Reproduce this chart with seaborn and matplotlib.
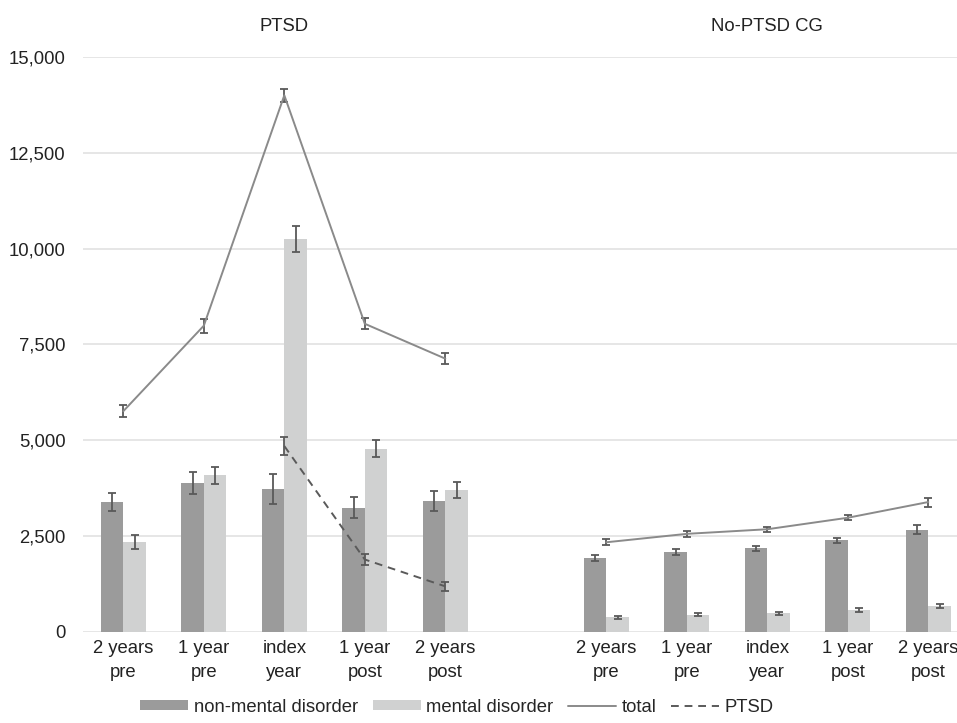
import pandas as pd
import seaborn as sns
import matplotlib.pyplot as plt
import matplotlib.transforms as mtransforms
from matplotlib.patches import Patch
from matplotlib.lines import Line2D

# values
periods = ["2 years\npre", "1 year\npre", "index\nyear", "1 year\npost", "2 years\npost"]
groups = ["PTSD", "No-PTSD CG"]

ptsd_nonmental = [3390, 3880, 3720, 3240, 3410]
ptsd_nonmental_err = [235, 283, 392, 270, 261]
ptsd_mental = [2350, 4090, 10250, 4780, 3700]
ptsd_mental_err = [175, 218, 348, 218, 205]
ptsd_total = [5760, 7990, 14000, 8040, 7130]
ptsd_total_err = [165, 183, 165, 140, 152]
ptsd_ptsd_periods = ["index\nyear", "1 year\npost", "2 years\npost"]
ptsd_ptsd = [4850, 1890, 1190]
ptsd_ptsd_err = [235, 144, 122]

cg_nonmental = [1930, 2090, 2180, 2390, 2670]
cg_nonmental_err = [78, 87, 61, 65, 113]
cg_mental = [380, 450, 490, 580, 690]
cg_mental_err = [44, 44, 44, 48, 52]
cg_total = [2340, 2560, 2680, 2980, 3390]
cg_total_err = [74, 87, 70, 70, 118]

dark = "#9b9b9b"
light = "#d0d1d1"
err_color = "#595959"
text_color = "#222222"
fs = 13.3

# category keys: 5 PTSD slots, an empty gap, 5 control slots
order = [f"PTSD|{p}" for p in periods] + ["gap"] + [f"CG|{p}" for p in periods]

rows = []
for key, nm, nme, m, me in zip(periods, ptsd_nonmental, ptsd_nonmental_err, ptsd_mental, ptsd_mental_err):
    rows.append((f"PTSD|{key}", "non-mental disorder", nm, nme))
    rows.append((f"PTSD|{key}", "mental disorder", m, me))
for key, nm, nme, m, me in zip(periods, cg_nonmental, cg_nonmental_err, cg_mental, cg_mental_err):
    rows.append((f"CG|{key}", "non-mental disorder", nm, nme))
    rows.append((f"CG|{key}", "mental disorder", m, me))
df = pd.DataFrame(rows, columns=["slot", "type", "value", "err"])

sns.set_style("white")
plt.rcParams["font.family"] = ["Liberation Sans", "DejaVu Sans"]

fig = plt.figure(figsize=(9.57, 7.23), dpi=100)
ax = fig.add_axes([0.0868, 0.1259, 0.9253, 0.7953])

sns.barplot(data=df, x="slot", y="value", hue="type", order=order,
            hue_order=["non-mental disorder", "mental disorder"],
            palette=[dark, light], width=0.562, gap=0, errorbar=None,
            legend=False, ax=ax, saturation=1, linewidth=0)

# error bars for bars, matched by position order
bars = sorted(ax.patches, key=lambda p: p.get_x())
df["pos"] = df["slot"].map(order.index)
df["sub"] = df["type"].map({"non-mental disorder": 0, "mental disorder": 1})
df_sorted = df.sort_values(["pos", "sub"])
xs = [b.get_x() + b.get_width() / 2 for b in bars]
ax.errorbar(xs, df_sorted["value"], yerr=df_sorted["err"], fmt="none",
            ecolor=err_color, elinewidth=1.3, capsize=3, capthick=1.3, zorder=4)

# lines
def pos(prefix, plist):
    return [order.index(f"{prefix}|{p}") for p in plist]

line_kw = dict(color="#8a8a8a", lw=1.4, ecolor=err_color, elinewidth=1.3,
               capsize=3, capthick=1.3, zorder=5)
ax.errorbar(pos("PTSD", periods), ptsd_total, yerr=ptsd_total_err, **line_kw)
ax.errorbar(pos("CG", periods), cg_total, yerr=cg_total_err, **line_kw)
ax.errorbar(pos("PTSD", ptsd_ptsd_periods), ptsd_ptsd, yerr=ptsd_ptsd_err,
            color="#5a5a5a", lw=1.4, ls=(0, (4, 3)), ecolor=err_color,
            elinewidth=1.3, capsize=3, capthick=1.3, zorder=5)

ax.set_xlim(-0.5, len(order) - 0.5)
ax.set_ylim(0, 15000)
ax.set_yticks(range(0, 15001, 2500))
ax.set_yticklabels([f"{v:,}" for v in range(0, 15001, 2500)], fontsize=fs, color=text_color)
ax.set_xticks(range(len(order)))
ax.set_xticklabels([k.split("|")[1] if "|" in k else "" for k in order],
                   fontsize=fs, color=text_color, linespacing=1.5)
ax.tick_params(axis="both", length=0)
ax.tick_params(axis="y", pad=12.5)
ax.tick_params(axis="x", pad=6)
ax.set_xlabel("")
ax.set_ylabel("")
ax.grid(axis="y", color="#e2e2e2", lw=1.2)
ax.set_axisbelow(True)
sns.despine(ax=ax, left=True, bottom=True)

# group titles
title_tr = mtransforms.blended_transform_factory(ax.transData, fig.transFigure)
for g, prefix in zip(groups, ["PTSD", "CG"]):
    ax.text(order.index(f"{prefix}|index\nyear"), 0.9627, g, fontsize=fs,
            ha="center", va="center", color=text_color, transform=title_tr)

handles = [Patch(facecolor=dark, edgecolor="none"),
           Patch(facecolor=light, edgecolor="none"),
           Line2D([], [], color="#8a8a8a", lw=1.4),
           Line2D([], [], color="#5a5a5a", lw=1.4, ls=(0, (4, 3)))]
labels = ["non-mental disorder", "mental disorder", "total", "PTSD"]
fig.legend(handles, labels, loc="center", bbox_to_anchor=(0.4775, 0.022), ncol=4,
           frameon=False, handlelength=2.6, handleheight=0.5,
           handletextpad=0.3, columnspacing=0.8,
           prop={"family": ["Liberation Sans Narrow", "Liberation Sans"], "size": fs})

fig.savefig("out.png", dpi=100)
